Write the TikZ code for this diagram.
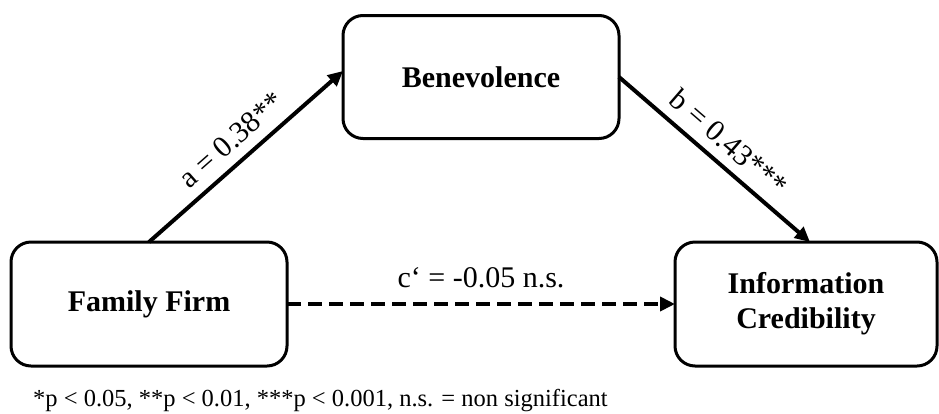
\documentclass[tikz,border=0pt]{standalone}
\usepackage{fontspec}
\setmainfont{Liberation Serif}
\usetikzlibrary{arrows.meta}

\tikzset{
  varbox/.style={draw=black, line width=3pt, rounded corners=20pt, fill=white,
    inner sep=0pt, outer sep=0pt, align=center,
    font=\fontsize{30}{35}\selectfont\bfseries},
  path/.style={line width=4pt, -{Triangle[length=15pt,width=14pt]}},
  direct/.style={path, dash pattern=on 14pt off 7pt},
  coef/.style={font=\fontsize{30}{34}\selectfont, inner sep=2pt},
  note/.style={font=\fontsize{24.5}{28}\selectfont, inner sep=0pt}
}

\begin{document}
\begin{tikzpicture}[x=1pt,y=-1pt]
  \useasboundingbox (0,0) rectangle (939,413);

  % variables of the mediation model
  \node[varbox, minimum width=276pt, minimum height=123pt] (ben) at (481,77) {Benevolence};
  \node[varbox, minimum width=276pt, minimum height=124pt] (ff) at (149,304) {Family Firm};
  \node[varbox, minimum width=262pt, minimum height=124pt] (ic) at (806,304) {Information\\Credibility};

  % indirect path via benevolence
  \draw[path] (ff.north) -- node[coef, sloped, above=8pt] {a = 0.38**} ([yshift=6pt]ben.west);
  \draw[path] (ben.east) -- node[coef, sloped, above=8pt] {b = 0.43***} ([xshift=4pt]ic.north);

  % direct effect
  \draw[direct] (ff.east) -- node[coef, above=12pt] {c‘ = -0.05 n.s.} (ic.west);

  % significance legend
  \node[note, anchor=base west] (legend) at (33,406)
    {*p < 0.05, **p < 0.01, ***p < 0.001, n.s. = non significant};
\end{tikzpicture}
\end{document}
